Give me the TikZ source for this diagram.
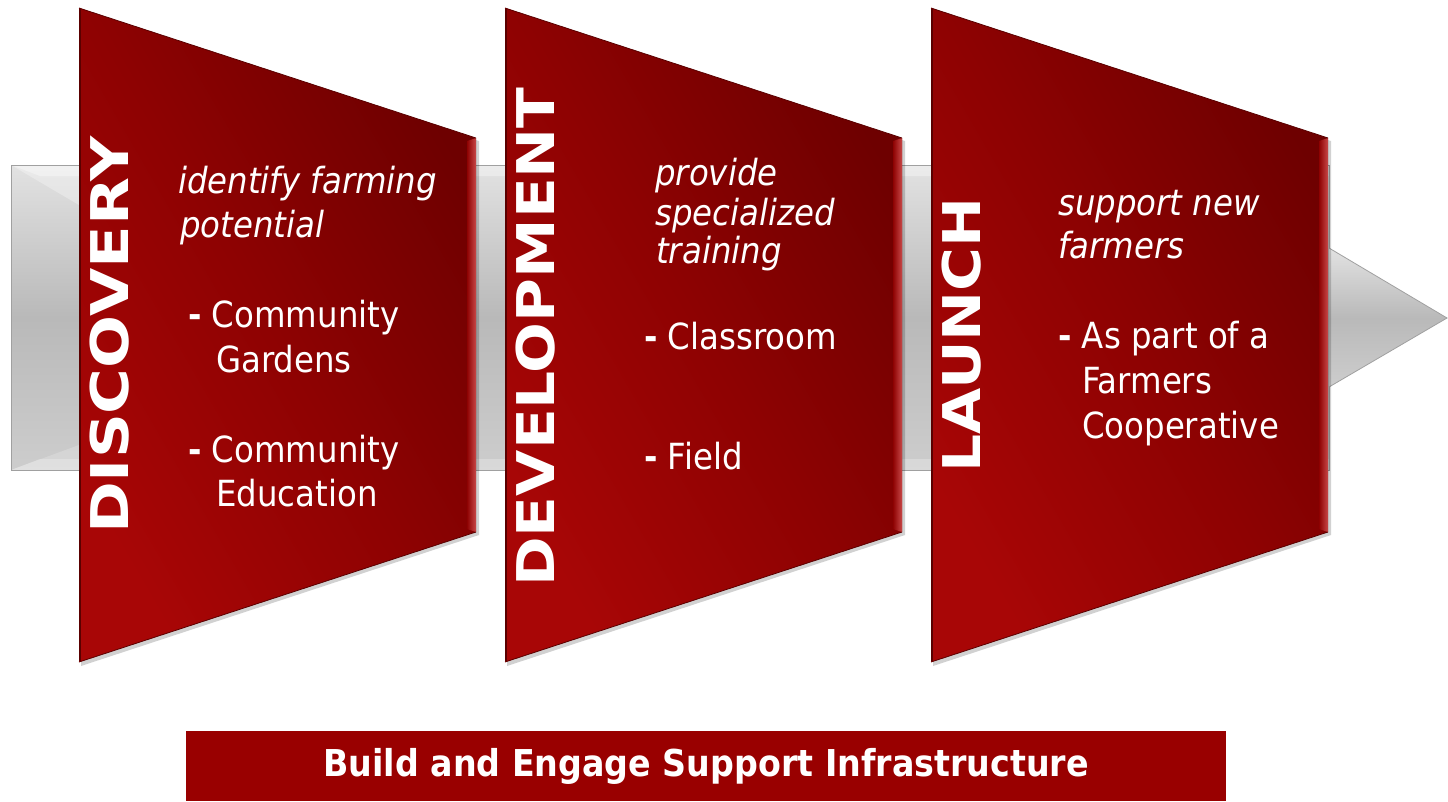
\documentclass[tikz,border=0pt]{standalone}
\usepackage{fontspec}
\newfontfamily\tah{DejaVu Sans}[FakeStretch=0.9]
\newfontfamily\tahwide{DejaVu Sans}[FakeStretch=1.15]
\newfontfamily\tahwider{DejaVu Sans}[FakeStretch=1.2]
\definecolor{trBright}{HTML}{A80606}
\definecolor{trMid}{HTML}{8E0202}
\definecolor{trDark}{HTML}{6E0000}
\definecolor{trEdge}{HTML}{5A0000}
\definecolor{trHi}{HTML}{C84848}
\definecolor{barRed}{HTML}{990000}
\definecolor{bandTop}{HTML}{E2E2E2}
\definecolor{bandMid}{HTML}{B9B9B9}
\definecolor{bandBot}{HTML}{CDCDCD}
\definecolor{bandLine}{HTML}{A0A0A0}
\tikzset{
  body/.style={font={\tah\fontsize{36}{44}\selectfont}, text=white, inner sep=0pt, anchor=base west},
  sub/.style={font={\tah\itshape\fontsize{36}{44}\selectfont}, text=white, inner sep=0pt, anchor=base west},
  title/.style={font={\tahwide\bfseries\fontsize{52}{60}\selectfont}, text=white, inner sep=0pt, rotate=90, anchor=base},
  barbox/.style={fill=barRed, draw=none, minimum width=1040pt, minimum height=70pt, inner sep=0pt,
     font={\tah\bfseries\fontsize{37}{44}\selectfont}, text=white}
}
\newcommand{\dashmark}{{\bfseries -}}
\begin{document}
\begin{tikzpicture}[x=1pt,y=-1pt]
\useasboundingbox (0,0) rectangle (1448,801);
\fill[white] (0,0) rectangle (1448,801);

% gray band (shaft)
\shade[top color=bandTop, bottom color=bandBot, middle color=bandMid]
  (11,165) rectangle (1329,470);
\fill[white, opacity=0.35] (11,165) -- (1329,165) -- (1329,176) -- (40,176) -- cycle;
\fill[white, opacity=0.25] (11,470) -- (1329,470) -- (1329,459) -- (40,459) -- cycle;
\fill[white, opacity=0.3] (11,165) -- (79,165) -- (79,205) -- cycle;
\fill[white, opacity=0.2] (11,470) -- (79,470) -- (79,445) -- cycle;
\draw[bandLine, line width=0.8pt] (11,165) rectangle (1329,470);

% arrow head
\shade[top color=bandTop, bottom color=bandMid] (1329,248) -- (1447,318) -- (1329,318) -- cycle;
\shade[top color=bandMid, bottom color=bandBot] (1329,318) -- (1447,318) -- (1329,387) -- cycle;
\draw[bandLine, line width=0.8pt] (1329,248) -- (1447,318) -- (1329,387);

% trapezoids
\foreach \dx in {0,426,852}{
\begin{scope}[shift={(\dx,0)}]
  \fill[black, opacity=0.18] (81,11) -- (479,141) -- (479,535) -- (81,666) -- cycle;
  \shade[top color=trDark, bottom color=trBright, middle color=trMid, shading angle=-60]
    (79,8) -- (476,138) -- (476,532) -- (79,662) -- cycle;
  \shade[left color=trMid, right color=trHi] (467,141) -- (476,138) -- (476,532) -- (467,529) -- cycle;
  \draw[trEdge, line width=2pt] (80,9) -- (80,661);
  \draw[trEdge, line width=0.8pt] (79,8) -- (476,138);
  \draw[trEdge, line width=0.8pt] (79,662) -- (476,532);
\end{scope}
}

% titles
\node[title, font={\tahwider\bfseries\fontsize{52}{60}\selectfont}] (t1) at (128,335) {DISCOVERY};
\node[title] (t2) at (554,337) {DEVELOPMENT};
\node[title] (t3) at (980,335) {LAUNCH};

% panel 1
\node[sub] (p1a) at (178,193) {identify farming};
\node[sub] (p1b) at (180,237) {potential};
\node[body] (p1c) at (188,327) {\dashmark{} Community};
\node[body] (p1d) at (216,372) {Gardens};
\node[body] (p1e) at (188,462) {\dashmark{} Community};
\node[body] (p1f) at (216,506) {Education};

% panel 2
\node[sub] (p2a) at (655,185) {provide};
\node[sub] (p2b) at (655,225) {specialized};
\node[sub] (p2c) at (656,263) {training};
\node[body] (p2d) at (644,349) {\dashmark{} Classroom};
\node[body] (p2e) at (644,469) {\dashmark{} Field};

% panel 3
\node[sub] (p3a) at (1058,215) {support new};
\node[sub] (p3b) at (1058,258) {farmers};
\node[body] (p3c) at (1058,348) {\dashmark{} As part of a};
\node[body] (p3d) at (1082,393) {Farmers};
\node[body] (p3e) at (1082,438) {Cooperative};

% bottom bar
\node[barbox] (bar) at (706,766) {Build and Engage Support Infrastructure};
\end{tikzpicture}
\end{document}
